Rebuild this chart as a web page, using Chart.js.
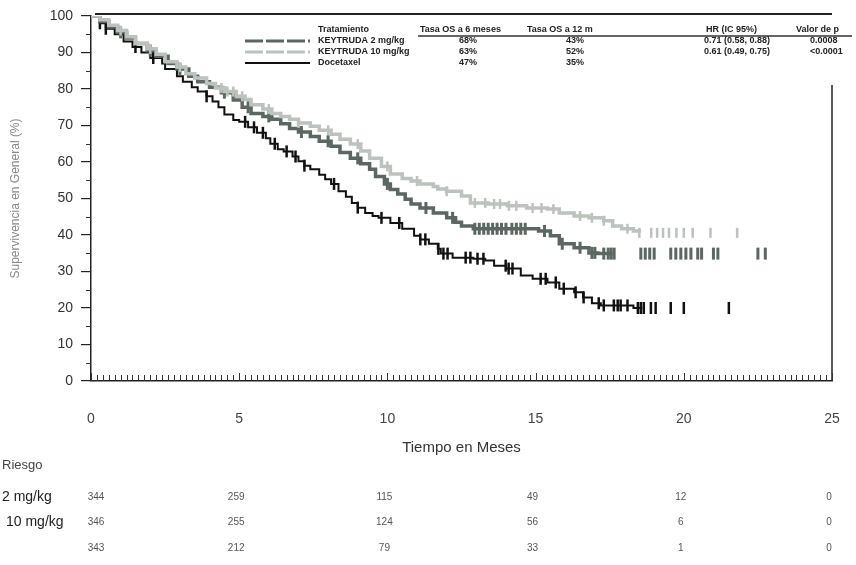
<!DOCTYPE html>
<html>
<head>
<meta charset="utf-8">
<script src="https://cdn.jsdelivr.net/npm/chart.js@4/dist/chart.umd.min.js"></script>
<style>
  html, body { margin: 0; padding: 0; background: #fff; }
</style>
</head>
<body>
<canvas id="km" width="856" height="565"></canvas>
<script>
// Kaplan-Meier curves (months, % survival)
const times10 = [0, 0.3, 0.6, 0.9, 1.2, 1.5, 1.9, 2.2, 2.5, 2.9, 3.2, 3.5, 3.9, 4.2, 4.5, 4.9, 5.2, 5.4, 5.8, 6.1,
  6.4, 6.7, 7.0, 7.4, 7.7, 8.1, 8.4, 8.75, 9.1, 9.4, 9.8, 10.1, 10.5, 10.8, 11.1, 11.55, 11.7, 12.0, 12.5, 12.8,
  13.4, 14.05, 14.7, 15.4, 15.8, 16.3, 16.8, 17.3, 17.6, 17.9, 18.3, 18.5];
const surv10 = [100, 99, 97.5, 96, 94.3, 92.5, 91, 89.5, 87.5, 86, 84.2, 83, 81.5, 80.3, 79.3, 78, 77.1, 75.7, 74.5, 73.3,
  72.5, 71.7, 70.7, 69.8, 68.7, 67.6, 66.2, 64.9, 63, 61, 58.8, 56.7, 55.5, 54.8, 54, 53.3, 52.6, 52, 50.7, 48.8,
  48.5, 48, 47.4, 47.1, 46, 45.2, 44.7, 43.9, 42.5, 41.7, 41.1, 40.6];

const times2 = [0, 0.3, 0.6, 0.9, 1.2, 1.5, 1.9, 2.2, 2.6, 2.9, 3.3, 3.6, 4.0, 4.4, 4.8, 5.1, 5.4, 5.8, 6.1, 6.4,
  6.7, 7.0, 7.4, 7.7, 8.1, 8.4, 8.75, 9.1, 9.4, 9.6, 9.9, 10.1, 10.35, 10.6, 10.8, 11.1, 11.55, 12.0, 12.3, 12.5,
  12.9, 15.1, 15.5, 15.8, 16.3, 16.8, 17.1, 17.6];
const surv2 = [100, 98.5, 97, 95.5, 94, 92.5, 90.5, 89, 87, 85.5, 83.5, 82, 80.5, 79, 77, 75, 73.3, 72.5, 71.7, 70.5,
  69.2, 68.2, 67, 65.7, 64.3, 62.6, 61, 59.5, 58, 56, 54, 52.5, 51.2, 49.8, 48.5, 47.4, 46, 44.7, 43.5, 42.5,
  41.7, 41.1, 39.8, 37.6, 36.5, 35.1, 34.9, 34.9];

const timesDoce = [0, 0.3, 0.5, 0.8, 1.1, 1.4, 1.7, 2.0, 2.4, 2.5, 2.9, 3.1, 3.4, 3.6, 3.9, 4.1, 4.3, 4.5, 4.8, 5.0,
  5.3, 5.6, 5.9, 6.05, 6.3, 6.5, 6.8, 7.0, 7.2, 7.4, 7.7, 7.9, 8.1, 8.35, 8.6, 8.8, 9.0, 9.25, 9.5, 9.7,
  10.1, 10.5, 10.9, 11.1, 11.4, 11.7, 11.8, 12.2, 12.9, 13.3, 13.6, 14.0, 14.5, 14.9, 15.4, 15.8, 16.3, 16.6, 16.9, 17.2,
  18.3, 18.6];
const survDoce = [100, 98, 96.5, 95, 93, 91.5, 90, 88.5, 87, 85.5, 83.5, 82, 80.5, 79.3, 78, 76.6, 75, 73, 71.5, 71,
  69.5, 68, 66.5, 65, 63.5, 62.9, 61.5, 60.2, 59, 58, 56.5, 55.3, 54, 52, 50.5, 48.8, 47.5, 46, 45.2, 44.7,
  43.3, 41.7, 39.8, 38.8, 37.6, 36.2, 34.9, 33.8, 33.5, 33, 31.6, 30.8, 28.9, 28, 27, 25.3, 24.3, 22.9, 21.3, 20.7,
  20.0, 20.0];

// censored observations (months)
const cens10 = [1.0, 2.0, 3.0, 4.4, 4.6, 4.8, 5.1, 6.0, 7.0, 8.0, 9.0, 10.0, 11.0, 12.0, 12.95, 13.3, 13.6, 13.8,
  14.1, 14.35, 14.9, 15.2, 15.6, 16.5, 16.9, 17.3, 18.1, 18.5, 18.9, 19.1, 19.3, 19.5, 19.75, 20.0, 20.3, 20.9, 21.8];
const cens2 = [1.0, 2.0, 3.0, 4.5, 5.3, 6.0, 7.1, 8.0, 9.0, 10.0, 11.3, 12.2, 12.95, 13.1, 13.25, 13.4, 13.55, 13.7,
  13.85, 14.0, 14.2, 14.35, 14.5, 14.65, 15.3, 15.9, 16.5, 16.9, 17.0, 17.3, 17.45, 17.55, 17.65, 18.55, 18.7, 18.85,
  19.0, 19.56, 19.73, 19.9, 20.07, 20.24, 20.47, 20.6, 21.0, 21.15, 22.5, 22.75];
const censDoce = [0.3, 0.5, 1.5, 2.1, 3.9, 5.2, 5.5, 5.8, 6.2, 6.6, 6.9, 7.2, 8.2, 9.0, 9.8, 10.4, 11.11, 11.28, 11.72,
  11.89, 12.03, 12.64, 12.8, 13.04, 13.24, 13.99, 14.09, 14.22, 15.17, 15.34, 15.68, 15.95, 16.35, 16.62, 17.13, 17.3,
  17.64, 17.77, 17.87, 18.1, 18.45, 18.55, 18.65, 18.89, 19.05, 19.56, 20.0, 21.52];

// numbers at risk
const riskTimes = [0, 5, 10, 15, 20, 25];
const risk2 = [344, 259, 115, 49, 12, 0];
const risk10 = [346, 255, 124, 56, 6, 0];
const riskDoce = [343, 212, 79, 33, 1, 0];

// summary table
const tableHeader = ['Tratamiento', 'Tasa OS a 6 meses', 'Tasa OS a 12 m', 'HR (IC 95%)', 'Valor de p'];
const groupNames = ['KEYTRUDA 2 mg/kg', 'KEYTRUDA 10 mg/kg', 'Docetaxel'];
const os6 = ['68%', '63%', '47%'];
const os12 = ['43%', '52%', '35%'];
const hrText = ['0.71 (0.58, 0.88)', '0.61 (0.49, 0.75)', ''];
const pText = ['0.0008', '<0.0001', ''];

const colDark = '#5b6760';
const colLight = '#bcc2bc';
const colBlack = '#111111';

function pts(times, surv) {
  return times.map((t, i) => ({ x: t, y: surv[i] }));
}
function survAt(times, surv, t) {
  let v = surv[0];
  for (let i = 0; i < times.length; i++) {
    if (times[i] <= t) v = surv[i];
  }
  return v;
}
function censPts(cens, times, surv) {
  return cens.map(t => ({ x: t, y: survAt(times, surv, t) }));
}

const narrow = '"Liberation Sans Narrow", "Liberation Sans", Arial, sans-serif';

const extras = {
  id: 'extras',
  afterDraw(chart) {
    const { ctx, chartArea: a, scales: { x, y } } = chart;
    ctx.save();
    ctx.strokeStyle = '#222';
    // frame top + right
    ctx.lineWidth = 2;
    ctx.beginPath();
    ctx.moveTo(a.left + 4, a.top - 2);
    ctx.lineTo(a.right, a.top - 2);
    ctx.stroke();
    ctx.lineWidth = 1.5;
    ctx.beginPath();
    ctx.moveTo(a.right, 85);
    ctx.lineTo(a.right, a.bottom);
    ctx.stroke();

    // small inside ticks along the x axis
    ctx.lineWidth = 1;
    ctx.strokeStyle = '#333';
    ctx.beginPath();
    for (let i = 0; i <= 125; i++) {
      const px = Math.round(x.getPixelForValue(i / 5)) + 0.5;
      const len = i % 25 === 0 ? 8 : 6;
      ctx.moveTo(px, a.bottom);
      ctx.lineTo(px, a.bottom - len);
    }
    // minor y ticks
    for (let v = 5; v < 100; v += 10) {
      const py = Math.round(y.getPixelForValue(v)) + 0.5;
      ctx.moveTo(a.left - 5, py);
      ctx.lineTo(a.left, py);
    }
    ctx.stroke();

    // summary table / legend
    ctx.fillStyle = '#222';
    ctx.font = 'bold 9px ' + narrow;
    ctx.textBaseline = 'middle';
    ctx.textAlign = 'left';
    ctx.fillText(tableHeader[0], 318, 30);
    ctx.fillText(tableHeader[1], 420, 30);
    ctx.fillText(tableHeader[2], 527, 30);
    ctx.fillText(tableHeader[3], 706, 30);
    ctx.fillText(tableHeader[4], 796, 30);
    ctx.lineWidth = 1.5;
    ctx.beginPath();
    ctx.moveTo(418, 36);
    ctx.lineTo(852, 36);
    ctx.stroke();

    const rowY = [41, 52, 63];
    const sample = [colDark, colLight, colBlack];
    rowY.forEach((ry, i) => {
      ctx.textAlign = 'left';
      ctx.fillText(groupNames[i], 318, ry);
      ctx.textAlign = 'center';
      ctx.fillText(os6[i], 468, ry);
      ctx.fillText(os12[i], 575, ry);
      ctx.textAlign = 'left';
      ctx.fillText(hrText[i], 704, ry);
      ctx.fillText(pText[i], 810, ry);
      ctx.strokeStyle = sample[i];
      ctx.lineWidth = i === 2 ? 2 : 3;
      ctx.setLineDash(i === 2 ? [] : [18, 3]);
      ctx.beginPath();
      ctx.moveTo(245, ry);
      ctx.lineTo(310, ry);
      ctx.stroke();
    });
    ctx.setLineDash([]);

    // numbers at risk
    ctx.textAlign = 'left';
    ctx.fillStyle = '#444';
    ctx.font = '13px "Liberation Sans", Arial, sans-serif';
    ctx.fillText('Riesgo', 2, 465);
    ctx.fillStyle = '#222';
    ctx.font = '14px "Liberation Sans", Arial, sans-serif';
    ctx.fillText('2 mg/kg', 2, 497);
    ctx.fillText('10 mg/kg', 6, 522);
    ctx.fillStyle = '#555';
    ctx.font = '10px ' + narrow;
    ctx.textAlign = 'center';
    [risk2, risk10, riskDoce].forEach((row, r) => {
      const ry = [497, 522, 548][r];
      row.forEach((n, i) => {
        const px = x.getPixelForValue(riskTimes[i]) + (i === 0 ? 5 : -3);
        ctx.fillText(String(n), px, ry);
      });
    });
    ctx.restore();
  }
};

const ctx = document.getElementById('km').getContext('2d');
new Chart(ctx, {
  type: 'line',
  data: {
    datasets: [
      { data: pts(times10, surv10), borderColor: colLight, borderWidth: 3.5, stepped: true, pointRadius: 0 },
      { data: censPts(cens10, times10, surv10), showLine: false, pointStyle: 'line', rotation: 90,
        pointRadius: 5, borderColor: colLight, borderWidth: 2.5 },
      { data: pts(times2, surv2), borderColor: colDark, borderWidth: 3.5, stepped: true, pointRadius: 0 },
      { data: censPts(cens2, times2, surv2), showLine: false, pointStyle: 'line', rotation: 90,
        pointRadius: 6, borderColor: colDark, borderWidth: 3 },
      { data: pts(timesDoce, survDoce), borderColor: colBlack, borderWidth: 2, stepped: true, pointRadius: 0 },
      { data: censPts(censDoce, timesDoce, survDoce), showLine: false, pointStyle: 'line', rotation: 90,
        pointRadius: 6, borderColor: colBlack, borderWidth: 2.5 }
    ]
  },
  options: {
    responsive: false,
    animation: false,
    layout: { padding: { left: 0, right: 24, top: 16, bottom: 104 } },
    plugins: { legend: { display: false }, tooltip: { enabled: false } },
    scales: {
      x: {
        type: 'linear', min: 0, max: 25,
        ticks: { stepSize: 5, padding: 22, color: '#444', font: { size: 14, family: 'Liberation Sans' } },
        grid: { display: false },
        border: { display: true, color: '#222', width: 1.5 },
        title: { display: true, text: 'Tiempo en Meses', color: '#333', font: { size: 15, family: 'Liberation Sans' } },
        afterFit: s => { s.height = 80; s.paddingLeft = 0; s.paddingRight = 0; }
      },
      y: {
        min: 0, max: 100,
        ticks: { stepSize: 10, padding: 8, color: '#333', font: { size: 14, family: 'Liberation Sans' } },
        grid: { drawOnChartArea: false, tickLength: 10, color: '#222', lineWidth: 1.2 },
        border: { color: '#222', width: 1.5 },
        title: { display: true, text: 'Supervivencia en General (%)', color: '#888',
          font: { size: 12, family: 'Liberation Sans' }, padding: { top: 8, bottom: 4 } },
        afterFit: s => { s.width = 91; s.paddingTop = 0; s.paddingBottom = 0; }
      }
    }
  },
  plugins: [extras]
});
</script>
</body>
</html>
